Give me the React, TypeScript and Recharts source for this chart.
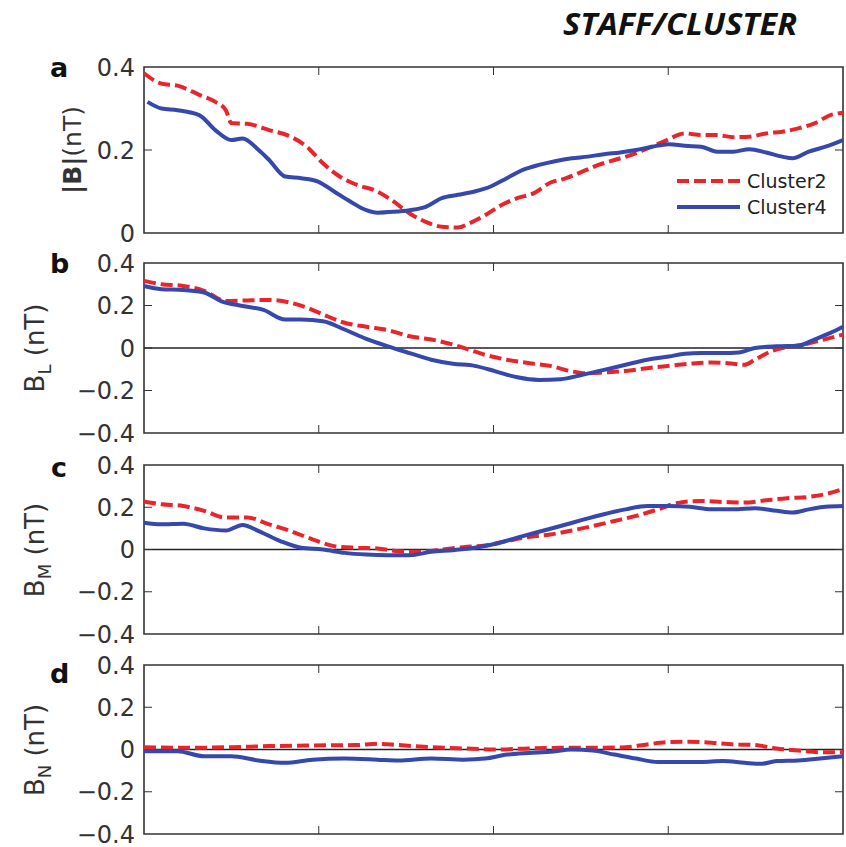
import React from 'react';
import { LineChart, Line, XAxis, YAxis, ReferenceLine, ReferenceArea, Legend } from 'recharts';

// time axis runs 0..100, interior ticks only
const xTicks = [25, 50, 75];
const magTicks = [0, 0.2, 0.4];
const compTicks = [-0.4, -0.2, 0, 0.2, 0.4];

// panel a: |B|
const magC2T = [0, 2.5, 4.8, 7.9, 10.2, 11.7, 12.5, 14.8, 17.9, 21.0, 23.3, 25.6, 28.0, 30.3, 33.4, 35.7, 38.0, 40.3, 42.6, 44.9, 46.5, 48.8, 51.1, 53.4, 55.8, 58.1, 60.4, 62.7, 65.0, 67.3, 69.7, 72.0, 74.3, 77.4, 79.7, 82.0, 84.3, 86.6, 89.0, 91.3, 93.6, 95.9, 98.2, 100];
const magC2 = [0.385, 0.36, 0.355, 0.333, 0.316, 0.296, 0.265, 0.263, 0.248, 0.232, 0.208, 0.168, 0.136, 0.117, 0.1, 0.076, 0.047, 0.027, 0.015, 0.013, 0.023, 0.043, 0.067, 0.084, 0.096, 0.121, 0.132, 0.148, 0.164, 0.176, 0.188, 0.204, 0.22, 0.24, 0.236, 0.236, 0.231, 0.232, 0.24, 0.244, 0.252, 0.264, 0.284, 0.29];
const magC4T = [0.5, 2.5, 4.8, 7.9, 10.2, 12.5, 14.1, 16.4, 17.9, 20.2, 22.5, 24.9, 27.2, 29.5, 31.8, 33.4, 35.7, 38.0, 40.3, 42.6, 44.9, 47.3, 49.6, 51.9, 54.2, 56.5, 58.8, 61.2, 63.5, 65.8, 68.1, 70.4, 72.7, 75.1, 77.4, 79.7, 82.0, 84.3, 86.6, 89.0, 91.3, 92.8, 95.1, 97.5, 100];
const magC4 = [0.316, 0.3, 0.296, 0.284, 0.248, 0.224, 0.228, 0.2, 0.176, 0.136, 0.132, 0.124, 0.1, 0.076, 0.055, 0.049, 0.051, 0.055, 0.063, 0.084, 0.092, 0.1, 0.112, 0.132, 0.152, 0.164, 0.173, 0.18, 0.184, 0.19, 0.194, 0.2, 0.208, 0.214, 0.21, 0.208, 0.196, 0.196, 0.202, 0.194, 0.184, 0.18, 0.196, 0.208, 0.224];

// panel b: B_L
const blC2T = [0, 2.5, 5.6, 8.6, 11.7, 14.8, 17.9, 21.0, 23.3, 25.6, 28.7, 31.8, 34.9, 38.0, 41.1, 44.2, 46.5, 48.8, 51.9, 55.0, 58.1, 61.2, 63.5, 65.8, 68.9, 72.0, 75.1, 78.1, 81.2, 84.3, 85.9, 87.4, 89.7, 92.0, 94.4, 96.7, 100];
const blC2 = [0.316, 0.3, 0.292, 0.269, 0.221, 0.224, 0.226, 0.213, 0.19, 0.158, 0.119, 0.1, 0.084, 0.055, 0.04, 0.016, -0.008, -0.032, -0.055, -0.071, -0.084, -0.11, -0.119, -0.115, -0.108, -0.095, -0.084, -0.074, -0.068, -0.074, -0.079, -0.055, -0.016, 0.005, 0.016, 0.035, 0.063];
const blC4T = [0, 2.5, 5.6, 8.6, 11.0, 14.1, 17.1, 20.2, 22.5, 25.6, 28.7, 31.8, 34.9, 38.0, 41.1, 44.2, 47.3, 50.3, 53.4, 56.5, 59.6, 62.7, 65.8, 68.9, 72.0, 75.1, 77.4, 79.7, 82.8, 85.1, 87.4, 90.5, 93.6, 95.9, 98.2, 100];
const blC4 = [0.292, 0.277, 0.273, 0.261, 0.221, 0.198, 0.179, 0.134, 0.134, 0.126, 0.087, 0.043, 0.008, -0.024, -0.055, -0.074, -0.084, -0.11, -0.138, -0.15, -0.147, -0.126, -0.103, -0.079, -0.055, -0.04, -0.027, -0.024, -0.024, -0.021, 0, 0.008, 0.011, 0.04, 0.071, 0.1];

// panel c: B_M
const bmC2T = [0, 2.5, 5.6, 8.6, 11.7, 14.8, 17.9, 21.0, 24.1, 27.2, 30.3, 33.4, 36.4, 39.5, 42.6, 45.7, 48.8, 51.9, 55.0, 58.1, 61.2, 64.2, 67.3, 70.4, 73.5, 76.6, 79.7, 82.8, 85.9, 89.0, 92.0, 95.1, 97.5, 100];
const bmC2 = [0.227, 0.214, 0.206, 0.183, 0.151, 0.151, 0.119, 0.087, 0.048, 0.016, 0.008, 0.005, -0.008, -0.011, 0, 0.011, 0.019, 0.04, 0.059, 0.071, 0.09, 0.111, 0.135, 0.159, 0.19, 0.222, 0.23, 0.225, 0.222, 0.233, 0.243, 0.249, 0.262, 0.286];
const bmC4T = [0, 2.5, 5.6, 8.6, 11.7, 14.1, 16.4, 19.5, 22.5, 25.6, 28.7, 31.8, 34.9, 38.0, 41.1, 44.2, 47.3, 50.3, 53.4, 56.5, 59.6, 62.7, 65.8, 68.9, 72.0, 75.1, 78.1, 81.2, 84.3, 87.4, 90.5, 92.8, 95.1, 97.5, 100];
const bmC4 = [0.127, 0.119, 0.122, 0.1, 0.09, 0.116, 0.087, 0.04, 0.008, 0, -0.016, -0.024, -0.027, -0.027, -0.011, -0.003, 0.008, 0.027, 0.056, 0.084, 0.111, 0.14, 0.167, 0.19, 0.206, 0.206, 0.202, 0.19, 0.19, 0.195, 0.183, 0.175, 0.19, 0.202, 0.206];

// panel d: B_N
const bnC2T = [0, 6.3, 12.5, 17.9, 24.1, 30.3, 33.4, 36.4, 41.1, 45.7, 50.3, 55.0, 59.6, 64.2, 68.9, 72.0, 75.1, 78.1, 81.2, 84.3, 87.4, 90.5, 93.6, 96.7, 100];
const bnC2 = [0.011, 0.008, 0.011, 0.016, 0.019, 0.021, 0.027, 0.021, 0.011, 0.005, 0, 0.005, 0.008, 0.008, 0.011, 0.024, 0.035, 0.037, 0.032, 0.024, 0.021, 0.005, -0.005, -0.013, -0.013];
const bnC4T = [0, 4.8, 8.6, 12.5, 16.4, 20.2, 24.1, 28.7, 33.4, 36.4, 41.1, 45.7, 48.8, 51.9, 55.0, 58.1, 61.2, 64.2, 67.3, 70.4, 73.5, 76.6, 79.7, 82.8, 85.9, 88.2, 90.5, 93.6, 96.7, 100];
const bnC4 = [-0.008, -0.008, -0.032, -0.032, -0.052, -0.063, -0.048, -0.043, -0.048, -0.052, -0.043, -0.048, -0.043, -0.024, -0.016, -0.011, 0, -0.005, -0.024, -0.043, -0.059, -0.059, -0.059, -0.055, -0.063, -0.068, -0.055, -0.052, -0.043, -0.032];

const RED = '#e9242a';
const BLUE = '#3648ad';
const AXIS = '#333';
const DASH = '12 5';
const PLOT_W = 699; // px between left and right frame
const TICK = 8; // inward tick length, px

const zip = (t: number[], v: number[]) => t.map((x, i) => ({ t: x, v: v[i] }));

const fmt = (v: number) => (Math.abs(v) < 1e-9 ? '0' : (v < 0 ? '\u2212' : '') + Math.abs(v).toFixed(1));

const tickStyle = { fontFamily: 'DejaVu Sans', fontSize: 24, fill: '#333' };

// tick marks only, no label (tick={false} would drop the marks too)
const NoLabel = () => <g />;

function LegendBox({ payload }: any) {
  return (
    <div style={{ fontFamily: 'DejaVu Sans', fontSize: 19, color: '#222' }}>
      {(payload || []).map((e: any) => (
        <div key={e.value} style={{ display: 'flex', alignItems: 'center', height: 26 }}>
          <svg width={63} height={6} style={{ marginRight: 7 }}>
            <line x1={0} y1={3} x2={63} y2={3} stroke={e.color} strokeWidth={4}
              strokeDasharray={e.value === 'Cluster2' ? DASH : undefined} />
          </svg>
          <span>{e.value}</span>
        </div>
      ))}
    </div>
  );
}

type PanelProps = {
  top: number;
  bottom: number;
  domain: [number, number];
  ticks: number[];
  c2: { t: number; v: number }[];
  c4: { t: number; v: number }[];
  zero?: boolean;
  legend?: boolean;
};

function Panel({ top, bottom, domain, ticks, c2, c4, zero, legend }: PanelProps) {
  const h = bottom - top + 40;
  const inner = ticks.filter((t) => t !== domain[0] && t !== domain[1]);
  // tick lengths converted into data units of each axis
  const dy = (TICK * (domain[1] - domain[0])) / (bottom - top);
  const dx = (TICK * 100) / PLOT_W;
  return (
    <div style={{ position: 'absolute', left: 0, top: top - 20 }}>
      <LineChart width={846} height={h} margin={{ top: 20, right: 3, bottom: 20, left: 0 }}>
        <XAxis type="number" dataKey="t" domain={[0, 100]} ticks={xTicks} interval={0} orientation="bottom" mirror
          tick={NoLabel} tickSize={TICK} axisLine={false} stroke={AXIS} />
        <YAxis type="number" domain={domain} ticks={ticks} width={144} tickLine={false} axisLine={false}
          tickSize={0} tickMargin={9} tick={tickStyle} tickFormatter={fmt} interval={0} />
        {zero && <ReferenceLine y={0} stroke="#222" strokeWidth={1.5} />}
        {xTicks.map((t) => (
          <ReferenceLine key={`top${t}`} segment={[{ x: t, y: domain[1] }, { x: t, y: domain[1] - dy }]} stroke={AXIS} />
        ))}
        {inner.map((v) => (
          <ReferenceLine key={`l${v}`} segment={[{ x: 0, y: v }, { x: dx, y: v }]} stroke={AXIS} />
        ))}
        {inner.map((v) => (
          <ReferenceLine key={`r${v}`} segment={[{ x: 100 - dx, y: v }, { x: 100, y: v }]} stroke={AXIS} />
        ))}
        <Line data={c2} dataKey="v" name="Cluster2" type="monotone" stroke={RED} strokeWidth={4}
          strokeDasharray={DASH} dot={false} isAnimationActive={false} />
        <Line data={c4} dataKey="v" name="Cluster4" type="monotone" stroke={BLUE} strokeWidth={4}
          dot={false} isAnimationActive={false} />
        <ReferenceArea x1={0} x2={100} y1={domain[0]} y2={domain[1]} fill="none" stroke={AXIS}
          strokeWidth={1.6} fillOpacity={0} />
        {legend && (
          <Legend layout="vertical" align="center" verticalAlign="middle" content={<LegendBox />}
            wrapperStyle={{ left: 677, top: 121, width: 170 }} />
        )}
      </LineChart>
    </div>
  );
}

function yLabel(cy: number, bx: number, sub: string) {
  return (
    <text transform="rotate(-90)" x={-cy} y={bx} textAnchor="middle" fontFamily="DejaVu Sans" fontSize={26} fill="#333">
      B<tspan fontSize={18} dy={7}>{sub}</tspan>
      <tspan dy={-7}> (nT)</tspan>
    </text>
  );
}

export default function App() {
  return (
    <div style={{ position: 'absolute', left: 0, top: 0, width: 846, height: 847, background: '#fff' }}>
      <Panel top={67} bottom={233} domain={[0, 0.4]} ticks={magTicks} c2={zip(magC2T, magC2)} c4={zip(magC4T, magC4)} legend />
      <Panel top={263} bottom={433} domain={[-0.4, 0.4]} ticks={compTicks} c2={zip(blC2T, blC2)} c4={zip(blC4T, blC4)} zero />
      <Panel top={465} bottom={634} domain={[-0.4, 0.4]} ticks={compTicks} c2={zip(bmC2T, bmC2)} c4={zip(bmC4T, bmC4)} zero />
      <Panel top={665} bottom={834} domain={[-0.4, 0.4]} ticks={compTicks} c2={zip(bnC2T, bnC2)} c4={zip(bnC4T, bnC4)} zero />
      <svg width={846} height={847} style={{ position: 'absolute', left: 0, top: 0, pointerEvents: 'none' }}>
        <text x={563} y={35} fontFamily="Open Sans" fontWeight="bold" fontStyle="italic" fontSize={30}
          textLength={234} lengthAdjust="spacingAndGlyphs" fill="#111">STAFF/CLUSTER</text>
        <g fontFamily="DejaVu Sans" fontWeight="bold" fontSize={27} fill="#111">
          <text x={50} y={77}>a</text>
          <text x={50} y={273}>b</text>
          <text x={51} y={477}>c</text>
          <text x={50} y={683}>d</text>
        </g>
        <text transform="rotate(-90)" x={-150} y={81} textAnchor="middle" fontFamily="DejaVu Sans" fontSize={25} fill="#333">
          <tspan fontWeight="bold">|B|</tspan>(nT)
        </text>
        {yLabel(348, 44, 'L')}
        {yLabel(550, 44, 'M')}
        {yLabel(750, 44, 'N')}
      </svg>
    </div>
  );
}
